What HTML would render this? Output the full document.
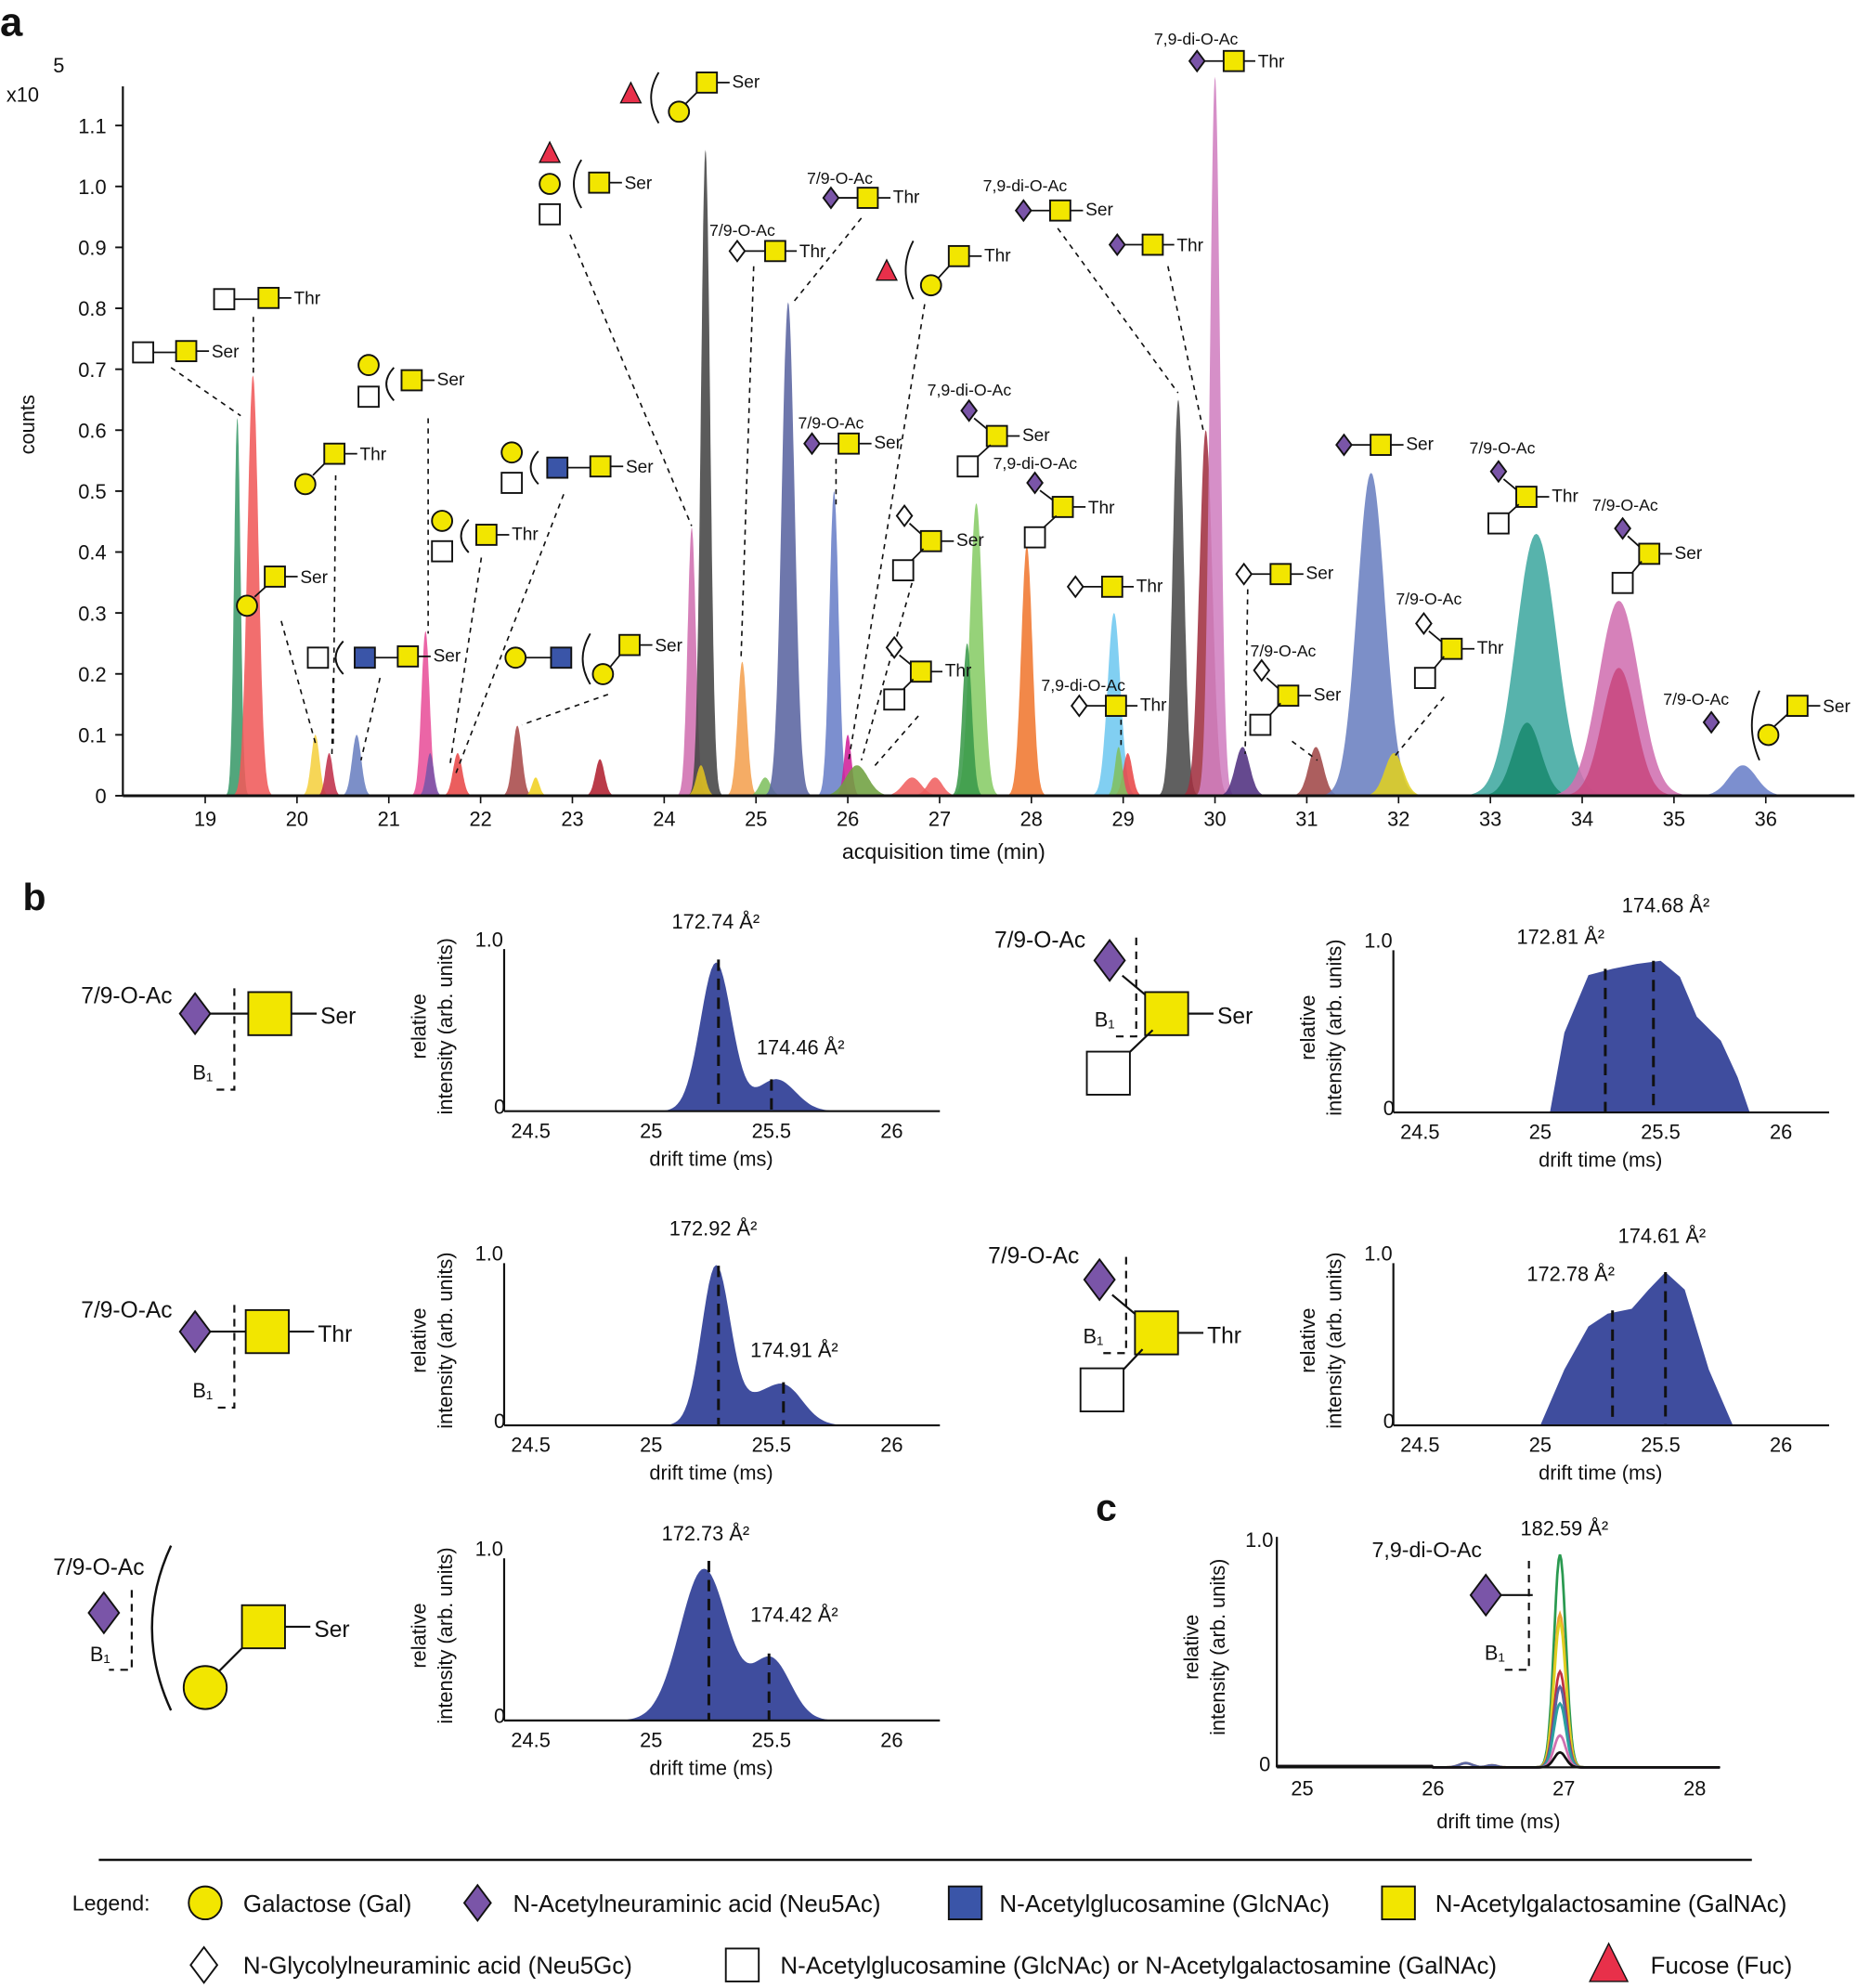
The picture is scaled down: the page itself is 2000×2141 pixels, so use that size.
<!DOCTYPE html>
<html><head><meta charset="utf-8"><style>
html,body{margin:0;padding:0;background:#fff}
svg{display:block}
text{font-family:"Liberation Sans",Arial,sans-serif;fill:#111}
</style></head><body>
<svg id="s" width="2000" height="2141" viewBox="0 0 1466 1569" xmlns="http://www.w3.org/2000/svg">
<rect width="1466" height="1569" fill="#fff"/>
</svg>
<script>
const S=document.getElementById('s');const NS='http://www.w3.org/2000/svg';
function el(t,a,txt){const e=document.createElementNS(NS,t);for(const k in a)e.setAttribute(k,a[k]);if(txt!==undefined)e.textContent=txt;S.appendChild(e);return e;}
function T(x,y,s,size,anchor,extra){const a={x:x,y:y,'font-size':size||14};if(anchor)a['text-anchor']=anchor;Object.assign(a,extra||{});return el('text',a,s);}
function L(x1,y1,x2,y2,dash,w){el('line',{x1,y1,x2,y2,stroke:'#111','stroke-width':w||1.3,'stroke-dasharray':dash?'4,4':'none'});}
function sq(x,y,f,s){s=s||16;el('rect',{x:x-s/2,y:y-s/2,width:s,height:s,fill:f,stroke:'#111','stroke-width':1.4});}
function ci(x,y,s){s=s||16;el('circle',{cx:x,cy:y,r:s/2,fill:'#f2e600',stroke:'#111','stroke-width':1.4});}
function di(x,y,f,s){s=s||16;const h=s/2;el('polygon',{points:`${x},${y-h} ${x+h*0.75},${y} ${x},${y+h} ${x-h*0.75},${y}`,fill:f,stroke:'#111','stroke-width':1.4});}
function tr(x,y,s){s=s||16;const h=s/2;el('polygon',{points:`${x},${y-h} ${x+h},${y+h} ${x-h},${y+h}`,fill:'#e8304a',stroke:'#111','stroke-width':1});}
function par(x,y1,y2){el('path',{d:`M${x+6},${y1} Q${x-6},${(y1+y2)/2} ${x+6},${y2}`,fill:'none',stroke:'#111','stroke-width':1.4});}
const Y='#f2e600',W='#fff',P='#7a55a8',B='#3a55a8';
T(0,28,'a',32,null,{'font-weight':'bold'});
T(5,80,'x10',16);T(42,57,'5',16);
T(0,0,'counts',16,'middle',{transform:'translate(27,335) rotate(-90)'});
const X0=162,PX=72.47,Y0=628,PY=481;
function xa(t){return X0+(t-19)*PX;}
function ya(v){return Y0-v*PY;}
const peaks=[
[19.35,0.62,0.035,'#3a9a6a'],[19.52,0.69,0.06,'#f05a5a'],[20.2,0.10,0.045,'#f5d040'],[20.35,0.07,0.04,'#c0304a'],
[20.65,0.10,0.05,'#6a80c0'],[21.4,0.27,0.045,'#e8509a'],[21.45,0.07,0.04,'#7a55a8'],[21.75,0.07,0.05,'#e84848'],
[22.4,0.115,0.05,'#a84a4a'],[22.6,0.03,0.04,'#f0d020'],[23.3,0.06,0.05,'#b02030'],[24.3,0.44,0.045,'#d070b0'],
[24.45,1.06,0.05,'#444'],[24.4,0.05,0.05,'#e0c020'],[24.85,0.22,0.05,'#f4a050'],[25.1,0.03,0.06,'#80c060'],[25.35,0.81,0.07,'#5a64a0'],
[25.85,0.50,0.05,'#6a80c8'],[26.0,0.10,0.04,'#d0209a'],[26.1,0.05,0.12,'#70a040'],[26.7,0.03,0.1,'#f06060'],[26.95,0.03,0.08,'#f06060'],
[27.4,0.48,0.07,'#88cc66'],[27.3,0.25,0.05,'#3a9a4a'],[27.95,0.41,0.06,'#f07830'],[28.9,0.30,0.07,'#70c8f0'],[29.05,0.07,0.05,'#e84848'],[28.95,0.08,0.04,'#80c060'],
[29.6,0.65,0.06,'#4a4a4a'],[29.9,0.60,0.07,'#a03040'],[30.0,1.18,0.055,'#d080c0'],[30.3,0.08,0.08,'#503080'],
[31.1,0.08,0.08,'#a04848'],[31.7,0.53,0.15,'#6a80c0'],[31.95,0.07,0.1,'#e0d020'],[33.5,0.43,0.22,'#40a8a0'],[33.4,0.12,0.15,'#1a8a70'],
[34.4,0.32,0.22,'#d070b0'],[34.4,0.21,0.18,'#c84880'],[35.75,0.05,0.15,'#6a80c8']];
for(const [t,h,s,c] of peaks){let d='';for(let k=-4;k<=4;k+=0.1){const tt=t+k*s;const v=h*Math.exp(-k*k/2);d+=(d?'L':'M')+xa(tt).toFixed(1)+','+ya(v).toFixed(1);}
d+='Z';el('path',{d,fill:c,'fill-opacity':0.88,stroke:'none'});}
L(97,68,97,628,false,1.6);L(97,628,1464,628,false,2.2);
for(let i=0;i<=11;i++){const y=ya(i/10);L(91,y,97,y,false,1.4);T(84,y+6,i==0?'0':(i/10).toFixed(1),16,'end');}
for(let m=19;m<=36;m++){L(xa(m),628,xa(m),634,false,1.2);T(xa(m),652,m,16,'middle');}
T(745,678,'acquisition time (min)',17,'middle');
function link(ax,ay,bx,by){L(ax,ay,bx,by,true,1.2);}
sq(113,278,W);L(121,278,139,278);sq(147,277,Y);L(155,277,165,277);T(167,282,'Ser',14);link(135,290,190,328);
sq(177,236,W);L(185,236,204,236);sq(212,235,Y);L(220,235,230,235);T(232,240,'Thr',14);link(200,250,200,296);
L(201,471,212,461);ci(195,478);sq(217,455,Y);L(225,455,235,455);T(237,460,'Ser',14);link(222,490,250,590);
L(247,375,258,364);ci(241,382);sq(264,358,Y);L(272,358,282,358);T(284,363,'Thr',14);link(265,375,263,590);
ci(291,288);sq(291,313,W);par(305,290,316);sq(325,300,Y);L(333,300,343,300);T(345,304,'Ser',14);link(338,330,338,500);
sq(251,519,W);par(265,506,532);sq(288,519,B);L(296,519,314,519);sq(322,518,Y);L(330,518,340,518);T(342,522,'Ser',14);link(300,535,285,600);link(263,535,262,598);
ci(349,411);sq(349,435,W);par(364,410,436);sq(384,422,Y);L(392,422,402,422);T(404,426,'Thr',14);link(380,440,355,605);
ci(404,357);sq(404,381,W);par(419,356,382);sq(440,369,B);L(448,369,466,369);sq(474,368,Y);L(482,368,492,368);T(494,373,'Ser',14);link(445,390,360,610);
ci(407,519);L(415,519,435,519);sq(443,519,B);par(460,500,540);L(482,526,491,515);sq(497,509,Y);ci(476,532);L(505,509,515,509);T(517,514,'Ser',14);link(480,548,412,572);
tr(434,120);ci(434,145);sq(434,169,W);par(453,126,164);sq(473,144,Y);L(481,144,491,144);T(493,149,'Ser',14);link(450,185,546,415);
tr(498,73);par(514,57,97);L(541,82,552,71);sq(558,65,Y);ci(536,88);L(566,65,576,65);T(578,69,'Ser',14);
T(560,186,'7/9-O-Ac',13);di(582,198,W);L(588,198,604,198);sq(612,198,Y);L(620,198,629,198);T(631,203,'Thr',14);link(595,210,585,520);
T(637,145,'7/9-O-Ac',13);di(656,156,P);L(662,156,677,156);sq(685,156,Y);L(693,156,703,156);T(705,160,'Thr',14);link(680,172,625,240);
tr(700,213);par(715,190,236);L(741,219,751,208);sq(757,202,Y);ci(735,225);L(765,202,775,202);T(777,206,'Thr',14);link(730,240,670,600);
T(630,338,'7/9-O-Ac',13);di(641,350,P);L(647,350,662,350);sq(670,350,Y);L(678,350,688,350);T(690,354,'Ser',14);link(660,362,660,398);
T(732,312,'7,9-di-O-Ac',13);di(765,324,P);L(769,330,781,340);sq(787,344,Y);L(782,351,770,362);sq(764,368,W);L(795,344,805,344);T(807,348,'Ser',14);
T(784,370,'7,9-di-O-Ac',13);di(817,381,P);L(821,387,833,396);sq(839,400,Y);L(834,407,822,418);sq(817,424,W);L(847,400,857,400);T(859,405,'Thr',14);
di(714,407,W);L(718,413,729,423);sq(735,427,Y);L(729,433,718,444);sq(713,450,W);L(743,427,753,427);T(755,431,'Ser',14);link(720,460,680,600);
di(706,511,W);L(710,517,721,526);sq(727,530,Y);L(721,536,711,546);sq(706,552,W);L(735,530,744,530);T(746,534,'Thr',14);link(725,565,690,605);
T(776,151,'7,9-di-O-Ac',13);di(808,166,P);L(814,166,829,166);sq(837,166,Y);L(845,166,855,166);T(857,170,'Ser',14);link(835,180,930,310);
di(882,193,P);L(888,193,902,193);sq(910,193,Y);L(918,193,927,193);T(929,198,'Thr',14);link(922,210,950,340);
T(911,35,'7,9-di-O-Ac',13);di(945,48,P);L(951,48,966,48);sq(974,48,Y);L(982,48,991,48);T(993,53,'Thr',14);
di(849,463,W);L(855,463,870,463);sq(878,463,Y);L(886,463,895,463);T(897,467,'Thr',14);
T(822,545,'7,9-di-O-Ac',13);di(852,557,W);L(858,557,873,557);sq(881,557,Y);L(889,557,898,557);T(900,561,'Thr',14);link(885,568,885,590);
di(982,453,W);L(988,453,1003,453);sq(1011,453,Y);L(1019,453,1029,453);T(1031,457,'Ser',14);link(985,465,983,595);
T(987,518,'7/9-O-Ac',13);di(996,529,W);L(1000,535,1011,545);sq(1017,549,Y);L(1011,555,1001,566);sq(995,572,W);L(1025,549,1035,549);T(1037,553,'Ser',14);link(1020,585,1040,600);
di(1061,351,P);L(1067,351,1082,351);sq(1090,351,Y);L(1098,351,1108,351);T(1110,355,'Ser',14);
T(1160,358,'7/9-O-Ac',13);di(1183,372,P);L(1187,378,1199,388);sq(1205,392,Y);L(1199,398,1188,408);sq(1183,413,W);L(1213,392,1223,392);T(1225,396,'Thr',14);
T(1257,403,'7/9-O-Ac',13);di(1281,417,P);L(1285,423,1296,433);sq(1302,437,Y);L(1296,443,1286,455);sq(1281,460,W);L(1310,437,1320,437);T(1322,441,'Ser',14);
T(1102,477,'7/9-O-Ac',13);di(1124,492,W);L(1128,498,1140,508);sq(1146,512,Y);L(1140,518,1130,530);sq(1125,535,W);L(1154,512,1164,512);T(1166,516,'Thr',14);link(1140,550,1100,598);
T(1313,556,'7/9-O-Ac',13);di(1351,570,P);par(1383,545,600);L(1401,573,1413,562);sq(1419,557,Y);ci(1396,580);L(1427,557,1437,557);T(1439,562,'Ser',14);
T(18,718,'b',30,null,{'font-weight':'bold'});
function small(ax,base,x25,pxms,ticks,shape,dashes,labels){
  const top=base-130;
  const xt=t=>x25+(t-25)*pxms, yv=v=>base-v*126;
  let d='M'+xt(shape[0][0])+','+base;for(const [t,v] of shape)d+='L'+xt(t).toFixed(1)+','+yv(v).toFixed(1);d+='L'+xt(shape[shape.length-1][0])+','+base+'Z';
  el('path',{d,fill:'#3f4d9e'});
  for(const [t,v] of dashes)el('line',{x1:xt(t),y1:yv(v),x2:xt(t),y2:base,stroke:'#111','stroke-width':2.2,'stroke-dasharray':'9,6'});
  L(ax,top+2,ax,base,false,1.6);L(ax,base,ax+344,base,false,1.6);
  T(ax-23,yv(1)-4,'1.0',16);T(ax-8,base+2,'0',16);
  for(const t of ticks)T(xt(t),base+21,t,16,'middle');
  T(xt(25.25),base+43,'drift time (ms)',16,'middle');
  T(0,0,'relative',16,'middle',{transform:`translate(${ax-62},${base-67}) rotate(-90)`});
  T(0,0,'intensity (arb. units)',16,'middle',{transform:`translate(${ax-41},${base-67}) rotate(-90)`});
  for(const [s,x,y] of labels)T(x,y,s,16,'middle');
}
function g2(a){return t=>a.reduce((s,[m,h,w])=>s+h*Math.exp(-((t-m)**2)/(2*w*w)),0);}
function samp(f,t0,t1){const r=[];for(let t=t0;t<=t1+1e-9;t+=0.01)r.push([t,Math.max(0,f(t))]);return r;}
const lt=[24.5,25,25.5,26];
small(398,877,514,190,lt,samp(g2([[25.27,0.93,0.065],[25.52,0.2,0.08]]),24.5,26.1),[[25.28,0.95],[25.5,0.2]],[['172.74 Å²',565,733],['174.46 Å²',632,832]]);
small(398,1125,514,190,lt,samp(g2([[25.27,1.0,0.06],[25.55,0.25,0.08],[25.42,0.1,0.06]]),24.5,26.1),[[25.28,1.0],[25.55,0.27]],[['172.92 Å²',563,975],['174.91 Å²',627,1071]]);
small(398,1358,514,190,lt,samp(g2([[25.22,0.95,0.1],[25.5,0.38,0.08]]),24.5,26.1),[[25.24,1.0],[25.49,0.42]],[['172.73 Å²',557,1216],['174.42 Å²',627,1280]]);
small(1100,878,1216,190,lt,[[25.04,0],[25.1,0.5],[25.2,0.86],[25.3,0.9],[25.4,0.93],[25.5,0.95],[25.58,0.85],[25.65,0.6],[25.75,0.45],[25.82,0.22],[25.87,0]],[[25.27,0.9],[25.47,0.95]],[['172.81 Å²',1232,745],['174.68 Å²',1315,720]]);
small(1100,1125,1216,190,lt,[[25.0,0],[25.1,0.35],[25.2,0.62],[25.28,0.7],[25.38,0.73],[25.45,0.85],[25.52,0.96],[25.6,0.85],[25.7,0.35],[25.8,0]],[[25.3,0.72],[25.52,0.96]],[['172.78 Å²',1240,1011],['174.61 Å²',1312,981]]);
T(64,792,'7/9-O-Ac',18);di(154,800,P,32);L(166,800,196,800,false,1.6);sq(213,800,Y,34);L(230,800,250,800,false,1.6);T(253,808,'Ser',18);
el('path',{d:'M185,780 L185,860 L168,860',fill:'none',stroke:'#111','stroke-width':1.6,'stroke-dasharray':'6,5'});T(152,852,'B₁',16);
T(64,1040,'7/9-O-Ac',18);di(154,1051,P,32);L(166,1051,194,1051,false,1.6);sq(211,1051,Y,34);L(228,1051,248,1051,false,1.6);T(251,1059,'Thr',18);
el('path',{d:'M185,1030 L185,1111 L168,1111',fill:'none',stroke:'#111','stroke-width':1.6,'stroke-dasharray':'6,5'});T(152,1103,'B₁',16);
T(42,1243,'7/9-O-Ac',18);di(82,1273,P,32);el('path',{d:'M104,1255 L104,1318 L86,1318',fill:'none',stroke:'#111','stroke-width':1.6,'stroke-dasharray':'6,5'});T(71,1311,'B₁',16);
el('path',{d:'M135,1220 Q105,1285 135,1350',fill:'none',stroke:'#111','stroke-width':1.8});
L(172,1320,196,1296,false,1.6);sq(208,1284,Y,34);ci(162,1332,34);L(225,1284,245,1284,false,1.6);T(248,1292,'Ser',18);
T(785,748,'7/9-O-Ac',18);di(876,758,P,32);L(886,770,910,790,false,1.6);sq(921,800,Y,34);L(910,813,888,834,false,1.6);sq(875,847,W,34);L(938,800,958,800,false,1.6);T(961,808,'Ser',18);
el('path',{d:'M897,740 L897,818 L878,818',fill:'none',stroke:'#111','stroke-width':1.6,'stroke-dasharray':'6,5'});T(864,810,'B₁',16);
T(780,997,'7/9-O-Ac',18);di(868,1010,P,32);L(878,1022,902,1042,false,1.6);sq(913,1052,Y,34);L(902,1065,884,1084,false,1.6);sq(870,1097,W,34);L(930,1052,950,1052,false,1.6);T(953,1060,'Thr',18);
el('path',{d:'M889,992 L889,1068 L870,1068',fill:'none',stroke:'#111','stroke-width':1.6,'stroke-dasharray':'6,5'});T(855,1060,'B₁',16);
T(865,1200,'c',30,null,{'font-weight':'bold'});
{const ax=1008,base=1395,x25=1028,px=103.3;const xt=t=>x25+(t-25)*px,yv=v=>base-v*168;
 const cols=[['#2a9a50',1.0],['#f0a030',0.72],['#e0d020',0.68],['#c03040',0.45],['#5a64a0',0.38],['#2aa0a0',0.3],['#d070b0',0.15],['#111',0.07]];
 for(const [c,h] of cols){let d='';for(let t=24.8;t<=28.2;t+=0.01){let v=h*Math.exp(-((t-26.97)**2)/(2*0.045*0.045));
   if(c=='#5a64a0'||c=='#f0a030')v+=0.02*Math.exp(-((t-26.25)**2)/(2*0.05*0.05))+0.01*Math.exp(-((t-26.45)**2)/(2*0.04*0.04));
   if(t<26)v+=0.006;d+=(d?'L':'M')+xt(t).toFixed(1)+','+yv(v).toFixed(1);}
   el('path',{d,fill:'none',stroke:c,'stroke-width':2});}
 L(ax,1213,ax,base,false,1.6);L(ax,base,1358,base,false,1.6);
 T(983,1221,'1.0',16);T(994,1398,'0',16);
 for(const t of [25,26,27,28])T(xt(t),base+22,t,16,'middle');
 T(xt(26.5),1443,'drift time (ms)',16,'middle');
 T(0,0,'relative',16,'middle',{transform:`translate(946,1300) rotate(-90)`});
 T(0,0,'intensity (arb. units)',16,'middle',{transform:`translate(967,1300) rotate(-90)`});
 T(1235,1212,'182.59 Å²',16,'middle');
 T(1083,1229,'7,9-di-O-Ac',17);di(1173,1259,P,32);L(1185,1259,1210,1259,false,1.6);
 el('path',{d:'M1207,1232 L1207,1318 L1188,1318',fill:'none',stroke:'#111','stroke-width':1.6,'stroke-dasharray':'6,5'});T(1172,1310,'B₁',16);
}
L(78,1468,1383,1468,false,1.8);
T(57,1508,'Legend:',17);
ci(162,1502,26);T(192,1509,'Galactose (Gal)',19);
di(377,1502,P,28);T(405,1509,'N-Acetylneuraminic acid (Neu5Ac)',19);
sq(762,1502,B,26);T(789,1509,'N-Acetylglucosamine (GlcNAc)',19);
sq(1104,1502,Y,26);T(1133,1509,'N-Acetylgalactosamine (GalNAc)',19);
di(161,1551,W,28);T(192,1558,'N-Glycolylneuraminic acid (Neu5Gc)',19);
sq(586,1551,W,26);T(616,1558,'N-Acetylglucosamine (GlcNAc) or N-Acetylgalactosamine (GalNAc)',19);
tr(1270,1549,30);T(1303,1558,'Fucose (Fuc)',19);
</script>
</body></html>
